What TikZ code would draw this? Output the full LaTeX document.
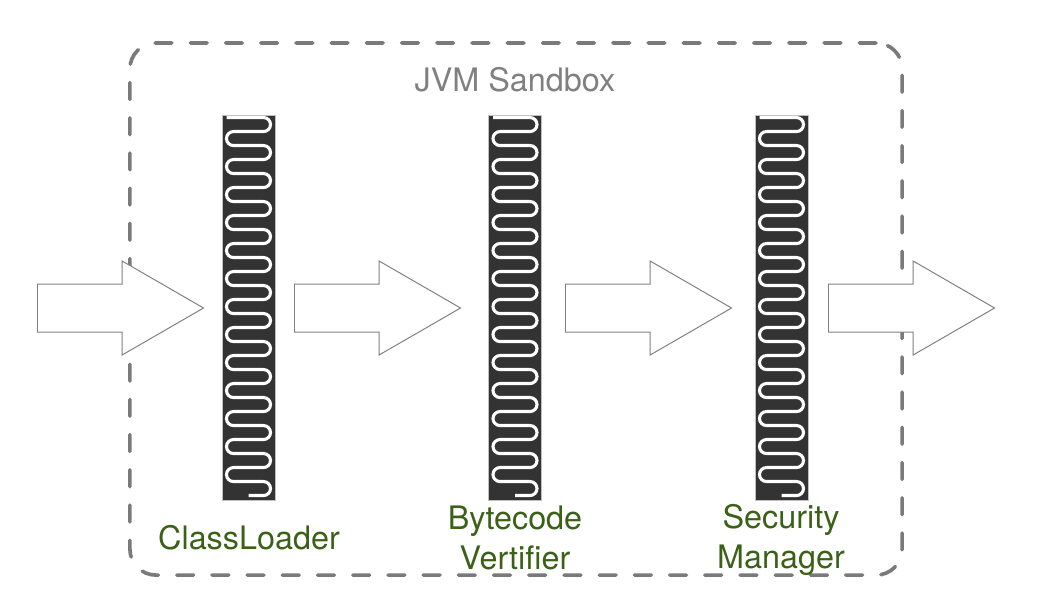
\documentclass[tikz,border=0pt]{standalone}
\usepackage{fontspec}
\setmainfont{TeX Gyre Heros}
\usepackage{xcolor}
\usepackage{tikz}
\usetikzlibrary{shapes, arrows, positioning}

\definecolor{boxgray}{HTML}{7A7A7A}
\definecolor{textgray}{HTML}{808080}
\definecolor{lblgreen}{HTML}{3B6117}
\definecolor{pillardark}{HTML}{333333}

\begin{document}
\begin{tikzpicture}[x=0.025cm, y=-0.025cm, node distance=1cm]
        \tikzstyle{sandbox} = [draw=boxgray, line width=2.6pt, line cap=round, dash pattern=on 0.42cm off 0.46cm, rounded corners=0.65cm, minimum width=19.3cm, minimum height=13.3cm, inner sep=0pt]
        \tikzstyle{pillar} = [draw=black!25, fill=pillardark, line width=0.6pt, rectangle, minimum width=1.325cm, minimum height=9.625cm, inner sep=0pt]
        \tikzstyle{spring} = [draw=white, line width=2.2pt]
        \tikzstyle{flow} = [draw=black!50, fill=white, line width=0.7pt, single arrow, single arrow head extend=0.575cm, single arrow tip angle=60, minimum height=4.15cm, inner xsep=0pt, inner ysep=0.5875cm, anchor=tail]
        \tikzstyle{lbl} = [text=lblgreen, font=\fontsize{23}{28.5}\selectfont, align=center, inner sep=0pt]

        \useasboundingbox (0,0) rectangle (1038,614);

        % --- 沙箱边框 ---
        \node [sandbox] (box) at (516,309) {};
        \node [text=textgray, font=\fontsize{23}{28}\selectfont, inner sep=0pt] (title) at (515,80) {JVM Sandbox};

        % --- 三道关卡 ---
        \node [pillar] (loader) at (248.5,307.5) {};
        \node [pillar] (verifier) at (515,307.5) {};
        \node [pillar] (manager) at (781.5,307.5) {};

        % 弹簧
        \foreach \p in {loader, verifier, manager}
            \draw [spring] ([shift={(-22,3)}]\p.north) -- ++(37,0) arc (-90:90:7) -- ++(-30,0) arc (270:90:7)
                foreach \i in {1,...,12} { -- ++(30,0) arc (-90:90:7) -- ++(-30,0) arc (270:90:7) }
                -- ++(30,0) arc (-90:90:7) -- ++(-15,0);

        % --- 箭头 ---
        \node [flow] (in) at (37,308) {};
        \node [flow] (step1) at (294,308) {};
        \node [flow] (step2) at (565,308) {};
        \node [flow] (out) at (828,308) {};

        % --- 标签 ---
        \node [lbl] (loaderlbl) at (249,538) {ClassLoader};
        \node [lbl] (verifierlbl) at (515,538) {Bytecode\\Vertifier};
        \node [lbl] (managerlbl) at (781,540) {Security\\Manager};

    \end{tikzpicture}
\end{document}
